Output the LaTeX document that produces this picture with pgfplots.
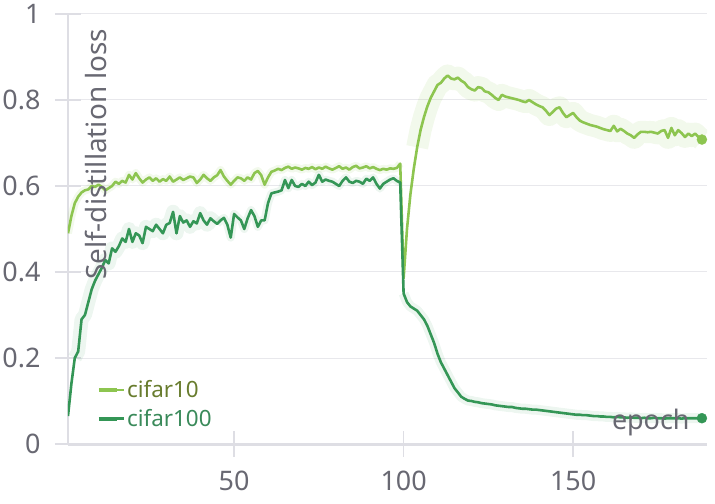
\documentclass[border=0pt]{standalone}
\usepackage{pgfplots}
\pgfplotsset{compat=1.18}
\usepackage{pgfplotstable}
\usepackage{fontspec}
\setmainfont{Noto Sans}
\definecolor{cten}{RGB}{141,197,80}
\definecolor{chund}{RGB}{52,150,86}
\definecolor{ctentext}{RGB}{104,124,46}
\definecolor{chundtext}{RGB}{58,138,90}
\definecolor{gridc}{RGB}{232,232,236}
\definecolor{axc}{RGB}{222,222,228}
\definecolor{labc}{RGB}{104,104,114}
\pgfplotstableread{
x c10 c100
1 0.490 0.065
2 0.530 0.140
3 0.560 0.200
4 0.575 0.215
5 0.585 0.290
6 0.590 0.300
7 0.592 0.330
8 0.600 0.360
9 0.598 0.380
10 0.603 0.395
11 0.598 0.410
12 0.590 0.428
13 0.595 0.420
14 0.600 0.455
15 0.610 0.447
16 0.605 0.460
17 0.612 0.478
18 0.608 0.470
19 0.626 0.500
20 0.615 0.470
21 0.630 0.490
22 0.618 0.485
23 0.608 0.467
24 0.615 0.505
25 0.620 0.500
26 0.612 0.495
27 0.618 0.510
28 0.610 0.500
29 0.616 0.490
30 0.612 0.510
31 0.622 0.514
32 0.610 0.540
33 0.615 0.490
34 0.620 0.530
35 0.614 0.515
36 0.618 0.520
37 0.622 0.505
38 0.620 0.518
39 0.607 0.513
40 0.615 0.537
41 0.626 0.520
42 0.618 0.510
43 0.612 0.525
44 0.620 0.518
45 0.625 0.512
46 0.637 0.520
47 0.622 0.526
48 0.612 0.510
49 0.603 0.480
50 0.612 0.535
51 0.620 0.527
52 0.618 0.520
53 0.612 0.500
54 0.620 0.525
55 0.615 0.544
56 0.630 0.530
57 0.635 0.505
58 0.625 0.520
59 0.603 0.520
60 0.620 0.560
61 0.633 0.583
62 0.636 0.585
63 0.640 0.587
64 0.637 0.590
65 0.642 0.614
66 0.645 0.595
67 0.640 0.614
68 0.643 0.600
69 0.641 0.598
70 0.638 0.605
71 0.642 0.600
72 0.640 0.610
73 0.644 0.602
74 0.639 0.608
75 0.643 0.626
76 0.640 0.610
77 0.645 0.615
78 0.641 0.612
79 0.638 0.610
80 0.642 0.605
81 0.646 0.600
82 0.640 0.612
83 0.643 0.620
84 0.638 0.610
85 0.644 0.607
86 0.647 0.612
87 0.641 0.610
88 0.643 0.605
89 0.646 0.617
90 0.641 0.612
91 0.644 0.620
92 0.640 0.605
93 0.637 0.594
94 0.640 0.605
95 0.638 0.610
96 0.641 0.615
97 0.640 0.618
98 0.642 0.612
99 0.652 0.608
100 0.385 0.350
101 0.500 0.330
102 0.580 0.320
103 0.640 0.315
104 0.690 0.310
105 0.730 0.300
106 0.760 0.290
107 0.785 0.275
108 0.805 0.255
109 0.820 0.235
110 0.835 0.210
111 0.840 0.190
112 0.850 0.175
113 0.857 0.160
114 0.850 0.145
115 0.848 0.130
116 0.852 0.120
117 0.845 0.110
118 0.840 0.105
119 0.830 0.101
120 0.825 0.100
121 0.822 0.098
122 0.830 0.097
123 0.828 0.095
124 0.820 0.094
125 0.818 0.093
126 0.812 0.092
127 0.805 0.090
128 0.800 0.089
129 0.812 0.088
130 0.808 0.087
131 0.806 0.086
132 0.804 0.086
133 0.802 0.084
134 0.800 0.083
135 0.797 0.082
136 0.795 0.082
137 0.800 0.081
138 0.795 0.080
139 0.790 0.080
140 0.786 0.079
141 0.783 0.078
142 0.775 0.077
143 0.765 0.076
144 0.772 0.075
145 0.780 0.074
146 0.783 0.073
147 0.770 0.072
148 0.760 0.071
149 0.765 0.070
150 0.770 0.069
151 0.760 0.068
152 0.752 0.068
153 0.748 0.067
154 0.745 0.067
155 0.742 0.066
156 0.740 0.065
157 0.738 0.065
158 0.735 0.064
159 0.732 0.064
160 0.730 0.063
161 0.728 0.063
162 0.740 0.062
163 0.727 0.063
164 0.733 0.062
165 0.728 0.062
166 0.722 0.061
167 0.718 0.062
168 0.712 0.061
169 0.720 0.061
170 0.726 0.060
171 0.726 0.061
172 0.725 0.060
173 0.726 0.060
174 0.724 0.061
175 0.722 0.060
176 0.728 0.060
177 0.730 0.059
178 0.712 0.060
179 0.735 0.060
180 0.718 0.060
181 0.730 0.060
182 0.723 0.059
183 0.714 0.060
184 0.722 0.060
185 0.716 0.060
186 0.722 0.060
187 0.714 0.060
188 0.708 0.060
}\loss
\begin{document}
\begin{tikzpicture}
\begin{axis}[
  scale only axis,
  width=639bp, height=430bp,
  xmin=1, xmax=189.5, ymin=0, ymax=1,
  axis lines=left,
  axis line style={-},
  x axis line style={draw=axc, line width=3bp},
  y axis line style={draw=axc, line width=2.5bp},
  xtick={50,100,150},
  ytick={0,0.2,0.4,0.6,0.8,1},
  yticklabels={0,0.2,0.4,0.6,0.8,1},
  tick align=center,
  major tick length=26bp,
  tick style={draw=axc, line width=1.5bp},
  ymajorgrids,
  grid style={draw=gridc, line width=1bp},
  /pgf/number format/assume math mode=true,
  ticklabel style={font=\fontsize{27}{30}\selectfont, text=labc},
  yticklabel style={anchor=east, xshift=-11bp},
  xticklabel style={anchor=north, inner sep=0pt},
  xticklabel shift=14bp,
  legend style={draw=none, fill=none, inner sep=0pt, outer sep=0pt,
    at={(axis description cs:0.045,0.152)}, anchor=north west,
    font=\fontsize{22.5}{25}\selectfont, row sep=6bp},
  legend cell align=left,
  legend image code/.code={\draw[line width=4bp] (0bp,0bp) -- (18bp,0bp); \path (0bp,0bp) -- (25bp,0bp);},
  line join=round,
]
% light bands
\addplot[forget plot, draw=cten, draw opacity=0.11, line width=8bp, restrict x to domain=1:99] table[x=x,y=c10]{\loss};
\addplot[forget plot, draw=cten, draw opacity=0.11, line width=22bp, restrict x to domain=104:188] table[x=x,y=c10]{\loss};
\addplot[forget plot, draw=chund, draw opacity=0.09, line width=14bp, restrict x to domain=3:45] table[x=x,y=c100]{\loss};
\addplot[forget plot, draw=chund, draw opacity=0.09, line width=8bp, restrict x to domain=45:99] table[x=x,y=c100]{\loss};
\addplot[forget plot, draw=chund, draw opacity=0.09, line width=10bp, restrict x to domain=100:188] table[x=x,y=c100]{\loss};
% main lines
\addplot[draw=cten, line width=2.6bp] table[x=x,y=c10]{\loss};
\addlegendentry{\textcolor{ctentext}{cifar10}}
\addplot[draw=chund, line width=2.6bp] table[x=x,y=c100]{\loss};
\addlegendentry{\textcolor{chundtext}{cifar100}}
% end dots
\addplot[forget plot, only marks, mark=*, mark size=5bp, color=cten] coordinates {(188,0.708)};
\addplot[forget plot, only marks, mark=*, mark size=5bp, color=chund] coordinates {(188,0.060)};
\node[rotate=90, anchor=base west, inner sep=0pt, font=\fontsize{28}{32}\selectfont, text=labc] at (axis description cs:0.061,0.381) {Self-distillation loss};
\node[anchor=base east, inner sep=0pt, font=\fontsize{27}{30}\selectfont, text=labc] at (axis description cs:0.973,0.033) {epoch};
\end{axis}
\pgfresetboundingbox
\path[use as bounding box] (-68bp,-60bp) rectangle (647bp,444bp);
\end{tikzpicture}
\end{document}
